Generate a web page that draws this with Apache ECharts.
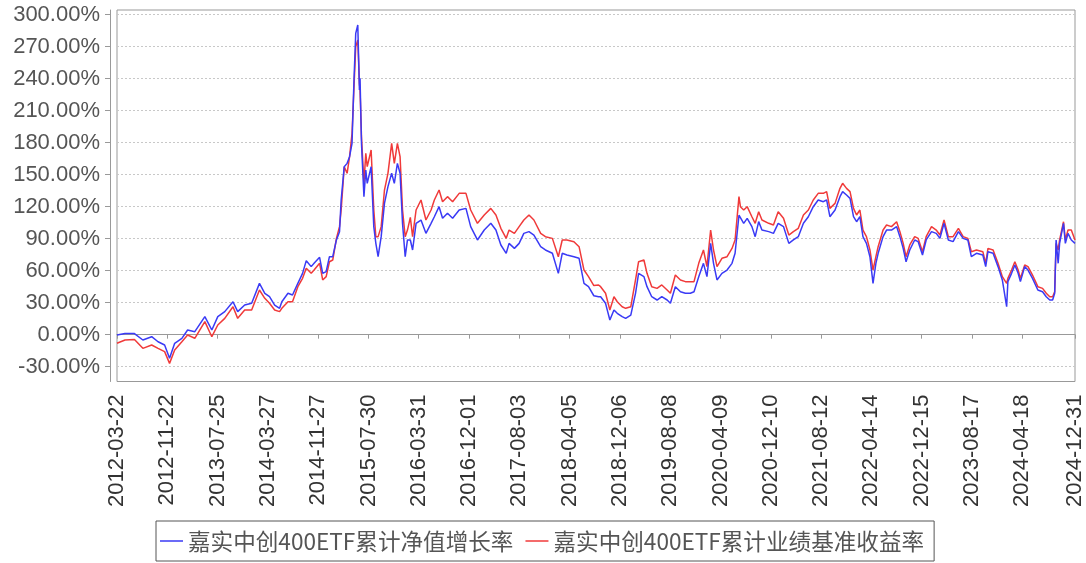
<!DOCTYPE html>
<html><head><meta charset="utf-8">
<script src="https://cdn.jsdelivr.net/npm/echarts@6/dist/echarts.min.js"></script>
<style>html,body{margin:0;padding:0;background:#fff}#c{width:1086px;height:563px}</style>
</head><body><div id="c"></div>
<script>
const dates = [
'2012-03-22','2012-04-30','2012-06-15','2012-07-26','2012-09-07','2012-10-08','2012-11-09','2012-12-03','2012-12-28',
'2013-02-01','2013-03-01','2013-04-05','2013-05-24','2013-06-27','2013-07-26','2013-08-29','2013-10-08','2013-10-31','2013-12-04',
'2014-01-07','2014-02-14','2014-03-12','2014-04-04','2014-04-29','2014-05-23','2014-06-03','2014-07-03','2014-07-25','2014-08-20',
'2014-09-12','2014-09-30','2014-10-24','2014-11-07','2014-12-04','2014-12-19',
'2015-01-05','2015-01-21','2015-02-06','2015-02-24','2015-03-11','2015-03-19','2015-04-03','2015-04-17','2015-04-29','2015-05-11',
'2015-05-20','2015-05-29','2015-06-08','2015-06-16','2015-06-19','2015-06-26','2015-07-08','2015-07-17','2015-07-24','2015-08-12',
'2015-08-25','2015-09-04','2015-09-15','2015-09-30','2015-10-16','2015-11-02','2015-11-20','2015-12-03','2015-12-18','2015-12-31',
'2016-01-12','2016-01-25','2016-02-05','2016-02-19','2016-03-01','2016-03-18','2016-04-11','2016-05-05','2016-05-30','2016-06-15',
'2016-07-08','2016-07-25','2016-08-18','2016-09-12','2016-10-14','2016-11-16','2016-12-09',
'2017-01-11','2017-02-13','2017-03-17','2017-04-11','2017-05-05','2017-05-31','2017-06-14','2017-07-10','2017-08-02','2017-08-25',
'2017-09-19','2017-10-13','2017-11-15','2017-12-08',
'2018-01-11','2018-02-09','2018-02-28','2018-03-23','2018-04-26','2018-05-21','2018-06-14','2018-07-06','2018-08-01','2018-08-24',
'2018-09-03','2018-09-27','2018-10-18','2018-11-07','2018-11-23','2018-12-17',
'2019-01-03','2019-01-28','2019-02-20','2019-03-07','2019-04-02','2019-04-17','2019-05-10','2019-06-05','2019-06-28','2019-07-24',
'2019-08-09','2019-09-02','2019-09-27','2019-10-21','2019-11-14','2019-12-02','2019-12-25',
'2020-01-17','2020-02-03','2020-02-21','2020-03-06','2020-03-23','2020-04-16','2020-05-11','2020-06-04','2020-06-19','2020-07-08',
'2020-07-15','2020-07-31','2020-08-17','2020-09-09','2020-09-25','2020-10-12','2020-10-28','2020-11-30','2020-12-23',
'2021-01-15','2021-02-10','2021-03-08','2021-03-30','2021-04-23','2021-05-18','2021-06-11','2021-07-05','2021-07-29','2021-08-23',
'2021-09-08','2021-09-24','2021-10-19','2021-11-12','2021-11-25','2021-12-14','2021-12-31',
'2022-01-17','2022-02-01','2022-02-17','2022-03-04','2022-03-21','2022-04-07','2022-04-22','2022-05-06','2022-05-17','2022-06-10',
'2022-06-27','2022-07-21','2022-08-15','2022-08-31','2022-09-16','2022-09-30','2022-10-18','2022-11-11','2022-11-28','2022-12-19',
'2023-01-06','2023-02-01','2023-02-24','2023-03-14','2023-04-03','2023-04-24','2023-05-17','2023-06-12','2023-07-05','2023-07-28',
'2023-08-14','2023-09-08','2023-10-09','2023-10-23','2023-11-03','2023-11-28','2023-12-22',
'2024-01-12','2024-02-02','2024-02-08','2024-02-26','2024-03-13','2024-03-29','2024-04-09','2024-04-30','2024-05-16','2024-06-07',
'2024-07-03','2024-07-26','2024-08-13','2024-08-30','2024-09-13','2024-09-23','2024-09-30','2024-10-10','2024-10-17','2024-11-05',
'2024-11-14','2024-11-27','2024-12-13','2024-12-31'
];
// 嘉实中创400ETF累计净值增长率 (%)
const navGrowth = [
-0.3,1.2,1.0,-5.0,-1.9,-6.6,-9.7,-22.2,-8.1,
-3.4,4.4,2.8,16.9,4.4,16.9,21.6,30.9,21.6,27.8,
29.4,48.1,38.8,35.6,27.8,24.7,30.9,38.8,37.2,48.1,
57.5,69.4,63.8,66.9,72.5,57.5,
59.1,73.1,73.1,88.8,96.6,126.3,157.5,160.6,166.9,179.4,
235.6,282.5,290.3,229.4,240.3,179.4,129.4,154.4,141.9,157.5,
101.3,85.6,73.1,91.9,123.1,138.8,151.3,141.9,160.6,151.3,
104.4,73.1,88.8,88.8,79.4,104.4,107.5,95.0,104.4,110.6,
120.0,109.1,113.8,109.1,116.9,118.4,101.3,
88.8,98.1,104.4,98.1,84.1,76.3,85.6,80.9,85.6,95.0,
96.6,93.4,82.5,79.4,
76.3,57.5,76.3,74.7,73.1,71.6,48.1,45.0,36.5,35.6,
35.6,29.4,13.8,23.1,20.0,16.9,
15.3,18.4,38.8,57.5,54.4,45.0,35.6,32.5,35.6,32.5,
29.4,45.0,40.3,38.8,38.8,40.3,54.4,
66.9,54.4,85.6,66.9,51.3,57.5,60.6,66.9,76.3,112.0,
113.8,104.4,109.1,101.3,91.9,106.0,98.1,96.6,95.0,
104.4,101.3,85.6,88.8,91.9,104.4,110.6,120.0,126.3,124.7,
126.3,110.6,116.9,129.4,134.1,130.9,127.8,
110.6,105.9,110.6,91.9,85.6,73.1,48.1,66.9,76.3,91.9,
98.1,98.1,101.3,91.9,80.9,68.4,79.4,88.8,87.2,74.7,
88.8,96.6,95.0,90.3,104.4,88.8,87.2,96.6,90.3,88.8,
73.1,76.3,74.7,63.8,77.8,76.3,63.8,
51.3,26.3,49.7,57.5,65.3,57.5,49.7,63.8,60.6,52.8,
41.9,40.3,35.6,32.5,32.5,38.8,88.8,66.9,85.6,104.4,
85.6,95.0,88.8,85.6
];
// 嘉实中创400ETF累计业绩基准收益率 (%)
const benchReturn = [
-8.1,-5.0,-4.5,-12.8,-9.7,-12.8,-15.9,-26.9,-14.4,
-6.6,-0.3,-3.4,12.2,-1.9,9.1,15.3,26.2,15.3,23.1,
23.1,41.9,34.1,29.4,23.1,21.6,24.7,30.9,30.9,45.0,
52.8,62.2,57.5,60.6,66.9,51.3,
54.4,68.4,70.0,90.3,101.3,116.9,157.5,151.3,166.9,188.8,
229.4,270.0,276.3,235.6,229.4,185.6,141.9,170.0,157.5,173.1,
116.9,91.9,91.9,101.3,135.6,151.3,179.4,160.6,179.4,166.9,
116.9,91.9,98.1,110.0,91.9,116.9,126.3,107.5,116.9,126.3,
135.6,124.7,129.4,124.7,132.5,132.5,116.9,
104.4,112.2,118.4,112.2,99.7,90.3,98.1,95.0,101.3,107.5,
112.2,107.5,95.0,91.9,
90.3,73.1,88.8,88.8,87.2,82.5,60.6,54.4,46.0,46.6,
45.0,38.8,23.1,35.6,30.9,26.2,
24.7,26.2,51.3,68.4,70.0,57.5,45.0,43.4,46.6,41.9,
38.8,55.9,51.3,49.7,49.7,49.7,66.9,
79.4,63.8,98.1,79.4,63.8,71.6,73.1,80.9,88.8,129.4,
120.0,116.9,120.0,110.6,104.4,115.3,107.5,104.4,102.8,
115.3,109.1,93.4,96.6,99.7,112.2,116.9,126.3,132.5,132.5,
134.1,118.4,123.1,137.2,141.9,137.2,134.1,
118.4,112.2,116.9,98.1,91.9,79.4,60.6,73.1,82.5,98.1,
102.8,101.3,105.9,96.6,85.6,73.1,84.1,91.9,90.3,77.8,
91.9,101.3,98.1,93.4,107.5,91.9,91.9,99.7,91.9,90.3,
77.8,79.4,77.8,66.9,80.9,79.4,66.9,
54.4,48.1,52.8,60.6,68.4,60.6,52.8,65.3,63.8,55.9,
45.0,43.4,38.8,35.6,35.6,40.3,85.6,79.4,88.8,105.9,
88.8,98.1,98.1,88.8
];
const xTickLabels = ['2012-03-22','2012-11-22','2013-07-25','2014-03-27','2014-11-27','2015-07-30','2016-03-31',
'2016-12-01','2017-08-03','2018-04-05','2018-12-06','2019-08-08','2020-04-09','2020-12-10','2021-08-12',
'2022-04-14','2022-12-15','2023-08-17','2024-04-18','2024-12-31'];
const yTicks = [-30,0,30,60,90,120,150,180,210,240,270,300];
const seriesNames = ['嘉实中创400ETF累计净值增长率','嘉实中创400ETF累计业绩基准收益率'];

const toTs = s => Date.parse(s);
const xTickValues = xTickLabels.map(toTs);
const fmtDate = v => new Date(v).toISOString().slice(0, 10);
const blueData = dates.map((d, i) => [toTs(d), navGrowth[i]]);
const redData = dates.map((d, i) => [toTs(d), benchReturn[i]]);

const chart = echarts.init(document.getElementById('c'), null, {renderer: 'canvas'});
chart.setOption({
  animation: false,
  backgroundColor: '#ffffff',
  grid: {left: 117, right: 9, top: 10, bottom: 181.5, show: true, borderColor: '#999', borderWidth: 1, backgroundColor: 'transparent'},
  legend: {
    data: seriesNames,
    left: 156, top: 521,
    orient: 'horizontal',
    padding: [6, 10, 6, 4],
    itemGap: 12,
    icon: 'rect',
    itemWidth: 23, itemHeight: 1.5,
    borderColor: '#555', borderWidth: 1,
    textStyle: {fontFamily: 'Noto Sans CJK SC', fontSize: 22.6, color: '#555', lineHeight: 28}
  },
  xAxis: {
    type: 'value',
    min: toTs(xTickLabels[0]), max: toTs(xTickLabels[xTickLabels.length - 1]),
    offset: 6,
    axisLine: {show: true, lineStyle: {color: '#999', width: 1}},
    axisTick: {show: true, length: 4, customValues: xTickValues, lineStyle: {color: '#999'}},
    axisLabel: {rotate: 90, margin: 7, customValues: xTickValues, formatter: v => fmtDate(v),
      fontFamily: 'Liberation Sans', fontSize: 22, color: '#333'},
    splitLine: {show: false}
  },
  yAxis: {
    type: 'value',
    min: -43.9, max: 304.4,
    offset: 7,
    axisLine: {show: true, lineStyle: {color: '#999', width: 1}},
    axisTick: {show: true, length: 5, customValues: yTicks, lineStyle: {color: '#999'}},
    axisLabel: {margin: 10, customValues: yTicks, formatter: v => v.toFixed(2) + '%',
      fontFamily: 'Liberation Sans', fontSize: 22, color: '#555'},
    splitLine: {show: true, lineStyle: {color: '#c8c8c8', type: [2, 2], width: 1}}
  },
  series: [
    {name: seriesNames[1], type: 'line', data: redData, symbol: 'none', color: '#f03a3a',
     lineStyle: {width: 1.5, color: '#f03a3a'}, z: 2},
    {name: seriesNames[0], type: 'line', data: blueData, symbol: 'none', color: '#3a3af5',
     lineStyle: {width: 1.5, color: '#3a3af5'}, z: 3}
  ]
});
</script>
</body></html>
